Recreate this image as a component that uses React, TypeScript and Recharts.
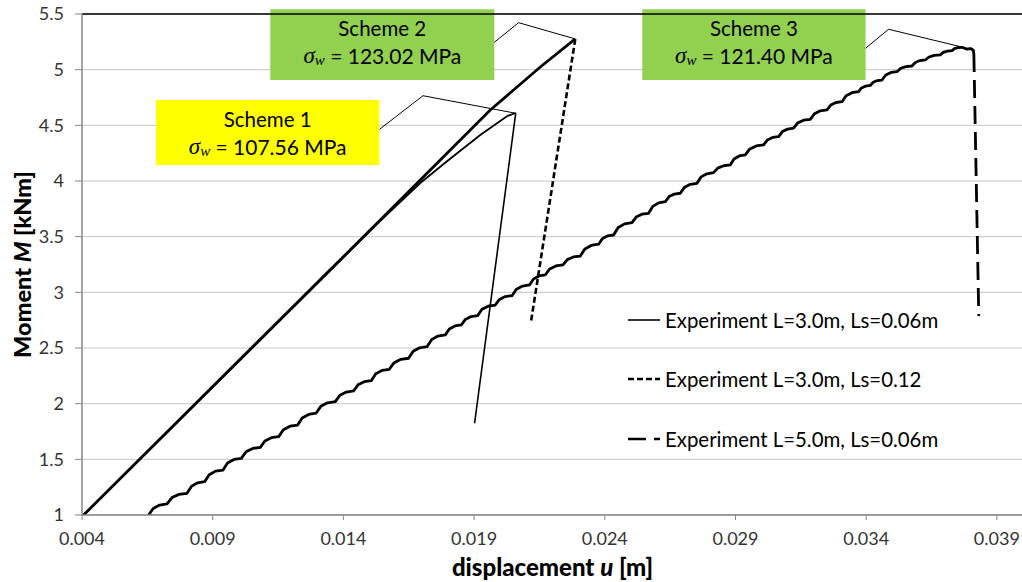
import React from "react";
import {
  ComposedChart,
  Line,
  XAxis,
  YAxis,
  CartesianGrid,
  ReferenceLine,
  ReferenceArea,
  Legend,
} from "recharts";

type P = [number, number];

const FONT = "Lato, 'Noto Sans', sans-serif";

const xTicks = [0.004, 0.009, 0.014, 0.019, 0.024, 0.029, 0.034, 0.039];
const yTicks = [1, 1.5, 2, 2.5, 3, 3.5, 4, 4.5, 5, 5.5];

// Experiment L=3.0m, Ls=0.06m
const exp1Rise: P[] = [
  [0.004061, 1.0],
  [0.015412, 3.641],
  [0.016942, 3.982],
  [0.017975, 4.18],
  [0.019237, 4.413],
  [0.02027, 4.584],
  [0.020595, 4.611],
];
const exp1Drop: P[] = [
  [0.020595, 4.611],
  [0.019019, 1.824],
];

// Experiment L=3.0m, Ls=0.12
const exp2Rise: P[] = [
  [0.004061, 1.0],
  [0.015412, 3.65],
  [0.01809, 4.279],
  [0.01962, 4.638],
  [0.021533, 5.024],
  [0.022872, 5.276],
];
const exp2Drop: P[] = [
  [0.022872, 5.276],
  [0.021177, 2.736],
];

// Experiment L=5.0m, Ls=0.06m
const exp3Rise: P[] = [
  [0.006548, 1.0],
  [0.006724, 1.059], [0.00697, 1.089], [0.007252, 1.099],
  [0.007443, 1.157], [0.007711, 1.185], [0.008017, 1.195],
  [0.008185, 1.257], [0.008421, 1.289], [0.00869, 1.299],
  [0.008866, 1.362], [0.009112, 1.394], [0.009394, 1.404],
  [0.009569, 1.467], [0.009814, 1.499], [0.010094, 1.509],
  [0.010276, 1.568], [0.01053, 1.598], [0.010821, 1.608],
  [0.010996, 1.665], [0.011241, 1.694], [0.011521, 1.703],
  [0.011703, 1.766], [0.011957, 1.798], [0.012248, 1.808],
  [0.012424, 1.872], [0.01267, 1.903], [0.012952, 1.914],
  [0.013137, 1.976], [0.013395, 2.008], [0.01369, 2.018],
  [0.013865, 2.076], [0.01411, 2.104], [0.01439, 2.114],
  [0.014559, 2.169], [0.014796, 2.197], [0.015067, 2.206],
  [0.015239, 2.268], [0.01548, 2.299], [0.015756, 2.309],
  [0.015941, 2.368], [0.016199, 2.398], [0.016494, 2.408],
  [0.01667, 2.47], [0.016916, 2.502], [0.017198, 2.512],
  [0.017373, 2.575], [0.017618, 2.607], [0.017898, 2.617],
  [0.018051, 2.671], [0.018266, 2.698], [0.018511, 2.707],
  [0.018667, 2.757], [0.018885, 2.782], [0.019134, 2.79],
  [0.019303, 2.848], [0.01954, 2.876], [0.019811, 2.886],
  [0.019971, 2.936], [0.020194, 2.962], [0.02045, 2.97],
  [0.020618, 3.028], [0.020854, 3.056], [0.021123, 3.066],
  [0.021273, 3.12], [0.021484, 3.147], [0.021724, 3.156],
  [0.021893, 3.21], [0.02213, 3.237], [0.022401, 3.246],
  [0.022567, 3.294], [0.022798, 3.318], [0.023063, 3.326],
  [0.023238, 3.39], [0.023483, 3.421], [0.023763, 3.432],
  [0.023907, 3.482], [0.024107, 3.507], [0.024337, 3.515],
  [0.024513, 3.582], [0.024759, 3.615], [0.025041, 3.626],
  [0.0252, 3.676], [0.025422, 3.702], [0.025676, 3.71],
  [0.025836, 3.772], [0.026059, 3.804], [0.026315, 3.814],
  [0.026459, 3.86], [0.026659, 3.882], [0.026889, 3.89],
  [0.027049, 3.943], [0.027272, 3.97], [0.027527, 3.979],
  [0.027686, 4.037], [0.027908, 4.065], [0.028162, 4.075],
  [0.028322, 4.116], [0.028545, 4.137], [0.028801, 4.144],
  [0.028945, 4.198], [0.029145, 4.225], [0.029375, 4.234],
  [0.02955, 4.288], [0.029795, 4.315], [0.030075, 4.324],
  [0.030219, 4.368], [0.030419, 4.391], [0.030649, 4.398],
  [0.030793, 4.444], [0.030993, 4.466], [0.031223, 4.474],
  [0.031383, 4.522], [0.031606, 4.546], [0.031862, 4.554],
  [0.032022, 4.604], [0.032245, 4.63], [0.032501, 4.638],
  [0.032645, 4.682], [0.032845, 4.705], [0.033075, 4.712],
  [0.033234, 4.766], [0.033455, 4.793], [0.033709, 4.802],
  [0.033821, 4.836], [0.033978, 4.852], [0.034157, 4.858],
  [0.034269, 4.887], [0.034426, 4.902], [0.034605, 4.907],
  [0.034749, 4.952], [0.034949, 4.975], [0.035179, 4.982],
  [0.035322, 5.013], [0.035523, 5.028], [0.035752, 5.033],
  [0.035879, 5.065], [0.036057, 5.082], [0.036261, 5.087],
  [0.036405, 5.114], [0.036605, 5.128], [0.036835, 5.132],
  [0.036947, 5.155], [0.037104, 5.167], [0.037283, 5.171],
  [0.037379, 5.189], [0.037512, 5.198], [0.037665, 5.201],
  [0.037857, 5.185], [0.03799, 5.19], [0.0381, 5.175], [0.03812, 5.14],
];
const exp3Drop: P[] = [
  [0.03812, 5.14],
  [0.038308, 2.787],
];

const seriesNames = [
  "Experiment L=3.0m, Ls=0.06m",
  "Experiment L=3.0m, Ls=0.12",
  "Experiment L=5.0m, Ls=0.06m",
];

const schemeTitles = ["Scheme 1", "Scheme 2", "Scheme 3"];
const schemeStress = ["107.56", "123.02", "121.40"];
const schemeColors = ["#FFFF00", "#92D050", "#92D050"];
const schemeBoxX: P[] = [
  [0.006831, 0.015374],
  [0.011204, 0.019773],
  [0.025435, 0.033977],
];
const schemeBoxY: P[] = [
  [4.144, 4.728],
  [4.907, 5.542],
  [4.907, 5.542],
];
const schemeCallouts: P[][] = [
  [[0.015385, 4.4645], [0.017045, 4.766], [0.020603, 4.608]],
  [[0.019773, 5.246], [0.020703, 5.422], [0.022872, 5.276]],
  [[0.033977, 5.192], [0.034858, 5.363], [0.037704, 5.201]],
];

const toXY = (arr: P[]) => arr.map(([x, y]) => ({ x, y }));

const legendLines = [
  { w: 1.6, dash: undefined as string | undefined },
  { w: 2.4, dash: "6 3" },
  { w: 2.6, dash: "18 8" },
];

const makeBoxLabel = (i: number) => (props: any) => {
  const vb = props.viewBox || {};
  const cx = vb.x + vb.width / 2;
  return (
    <g>
      <text
        x={cx}
        y={vb.y + 19}
        textAnchor="middle"
        dominantBaseline="central"
        fontFamily={FONT}
        fontSize={20.5}
        fill="#000"
      >
        {schemeTitles[i]}
      </text>
      <text
        x={cx}
        y={vb.y + 46}
        textAnchor="middle"
        dominantBaseline="central"
        fontFamily={FONT}
        fontSize={21}
        fill="#000"
      >
        <tspan fontFamily="'Liberation Serif', serif" fontStyle="italic" fontSize={23}>
          σ
        </tspan>
        <tspan fontFamily="'Liberation Serif', serif" fontStyle="italic" fontSize={15} dy={5}>
          w
        </tspan>
        <tspan dy={-5}>{` = ${schemeStress[i]} MPa`}</tspan>
      </text>
    </g>
  );
};

const renderLegend = () => (
  <div style={{ position: "relative", width: 400, height: 180, fontFamily: FONT }}>
    {seriesNames.map((n, i) => (
      <div
        key={n}
        style={{
          position: "absolute",
          left: 0,
          top: i * 59.5,
          height: 30,
          display: "flex",
          alignItems: "center",
        }}
      >
        <svg width={32} height={10} style={{ display: "block" }}>
          <line
            x1={0}
            y1={5}
            x2={32}
            y2={5}
            stroke="#000"
            strokeWidth={legendLines[i].w}
            strokeDasharray={legendLines[i].dash}
          />
        </svg>
        <span
          style={{
            marginLeft: 5,
            fontSize: 20.4,
            color: "#000",
            whiteSpace: "nowrap",
            lineHeight: "30px",
          }}
        >
          {n}
        </span>
      </div>
    ))}
  </div>
);

const XTitle = (props: any) => {
  const vb = props.viewBox || {};
  return (
    <text
      x={vb.x + vb.width / 2}
      y={vb.y + 51}
      textAnchor="middle"
      dominantBaseline="central"
      fontFamily={FONT}
      fontWeight={900}
      fontSize={24}
      fill="#000"
    >
      displacement <tspan fontStyle="italic">u</tspan> [m]
    </text>
  );
};

const YTitle = (props: any) => {
  const vb = props.viewBox || {};
  const cx = 22;
  const cy = vb.y + vb.height / 2;
  return (
    <text
      x={cx}
      y={cy}
      transform={`rotate(-90 ${cx} ${cy})`}
      textAnchor="middle"
      dominantBaseline="central"
      fontFamily={FONT}
      fontWeight={900}
      fontSize={23.5}
      fill="#000"
    >
      Moment <tspan fontStyle="italic">M</tspan> [kNm]
    </text>
  );
};

export default function App() {
  return (
    <div
      style={{
        position: "absolute",
        left: 0,
        top: 0,
        width: 1022,
        height: 582,
        overflow: "hidden",
        background: "#fff",
        fontFamily: FONT,
      }}
    >
      <ComposedChart
        width={1023}
        height={582}
        margin={{ top: 14, right: 0, bottom: 7, left: 0 }}
      >
        <CartesianGrid vertical={false} stroke="#c4c4c4" strokeWidth={1} />
        <XAxis
          type="number"
          dataKey="x"
          domain={[0.004, 0.04]}
          ticks={xTicks}
          allowDataOverflow
          height={60}
          tickFormatter={(v: number) => v.toFixed(3)}
          tick={{ fontSize: 18, fill: "#333", fontFamily: FONT }}
          tickSize={5}
          tickMargin={12}
          axisLine={{ stroke: "#868686", strokeWidth: 1.5 }}
          tickLine={{ stroke: "#868686" }}
          label={{ content: XTitle }}
        />
        <YAxis
          type="number"
          dataKey="y"
          domain={[1, 5.5]}
          ticks={yTicks}
          allowDataOverflow
          width={82}
          tickFormatter={(v: number) => String(v)}
          tick={{ fontSize: 18, fill: "#333", fontFamily: FONT }}
          tickSize={7}
          tickMargin={11}
          axisLine={{ stroke: "#868686", strokeWidth: 1.5 }}
          tickLine={{ stroke: "#868686" }}
          label={{ content: YTitle }}
        />
        <ReferenceLine y={5.5} stroke="#000" strokeWidth={1.5} />

        {schemeTitles.map((t, i) => (
          <ReferenceArea
            key={t}
            x1={schemeBoxX[i][0]}
            x2={schemeBoxX[i][1]}
            y1={schemeBoxY[i][0]}
            y2={schemeBoxY[i][1]}
            fill={schemeColors[i]}
            fillOpacity={1}
            stroke="none"
            ifOverflow="visible"
            label={makeBoxLabel(i)}
          />
        ))}
        {schemeCallouts.flatMap((pts, i) =>
          pts.slice(0, -1).map((p, j) => (
            <ReferenceLine
              key={`c${i}-${j}`}
              segment={[
                { x: p[0], y: p[1] },
                { x: pts[j + 1][0], y: pts[j + 1][1] },
              ]}
              stroke="#000"
              strokeWidth={1}
              ifOverflow="visible"
            />
          ))
        )}

        <Line
          data={toXY(exp3Rise)}
          dataKey="y"
          type="linear"
          stroke="#000"
          strokeWidth={2.8}
          strokeLinejoin="round"
          dot={false}
          activeDot={false}
          legendType="none"
          isAnimationActive={false}
        />
        <Line
          data={toXY(exp3Drop)}
          dataKey="y"
          type="linear"
          stroke="#000"
          strokeWidth={2.8}
          strokeDasharray="18 8"
          dot={false}
          activeDot={false}
          legendType="none"
          isAnimationActive={false}
        />
        <Line
          data={toXY(exp2Rise)}
          dataKey="y"
          type="linear"
          stroke="#000"
          strokeWidth={2.8}
          dot={false}
          activeDot={false}
          legendType="none"
          isAnimationActive={false}
        />
        <Line
          data={toXY(exp2Drop)}
          dataKey="y"
          type="linear"
          stroke="#000"
          strokeWidth={2.6}
          strokeDasharray="6 3"
          dot={false}
          activeDot={false}
          legendType="none"
          isAnimationActive={false}
        />
        <Line
          data={toXY(exp1Rise)}
          dataKey="y"
          type="linear"
          stroke="#000"
          strokeWidth={1.8}
          dot={false}
          activeDot={false}
          legendType="none"
          isAnimationActive={false}
        />
        <Line
          data={toXY(exp1Drop)}
          dataKey="y"
          type="linear"
          stroke="#000"
          strokeWidth={1.6}
          dot={false}
          activeDot={false}
          legendType="none"
          isAnimationActive={false}
        />
        <Legend
          layout="vertical"
          align="center"
          verticalAlign="middle"
          content={renderLegend}
          wrapperStyle={{ left: 628, top: 304.5, width: 400, height: 180 }}
        />
      </ComposedChart>
    </div>
  );
}
